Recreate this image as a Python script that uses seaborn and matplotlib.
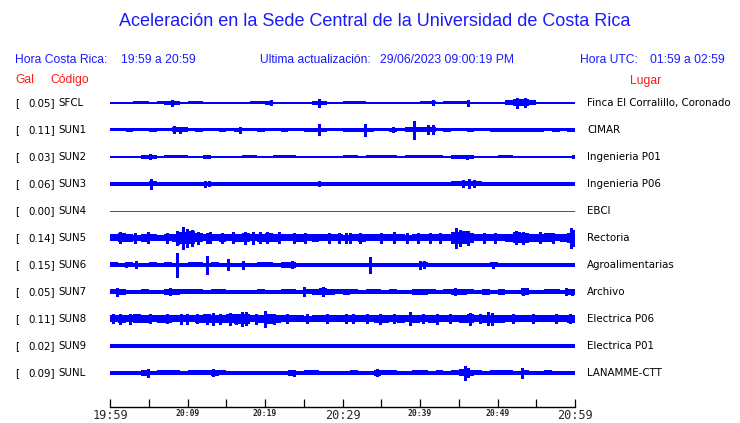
import numpy as np
import matplotlib
matplotlib.use("Agg")
import matplotlib.pyplot as plt
import seaborn as sns

W, H = 740, 423

codes = ["SFCL", "SUN1", "SUN2", "SUN3", "SUN4", "SUN5", "SUN6", "SUN7", "SUN8", "SUN9", "SUNL"]
gal = ["0.05", "0.11", "0.03", "0.06", "0.00", "0.14", "0.15", "0.05", "0.11", "0.02", "0.09"]
places = ["Finca El Corralillo, Coronado", "CIMAR", "Ingenieria P01", "Ingenieria P06", "EBCI",
          "Rectoria", "Agroalimentarias", "Archivo", "Electrica P06", "Electrica P01", "LANAMME-CTT"]

tick_min = list(range(0, 61, 5))
tick_labels = ["19:59", "", "20:09", "", "20:19", "", "20:29", "", "20:39", "", "20:49", "", "20:59"]
big_labels = ["19:59", "20:29", "20:59"]

# half-height of each trace (pixels), one value per minute
sfcl_env = [.5, .5, .5, 1.5, 1.5, .5, 1.5, 1.8, 1.8, .5, 1.5, 1.5, 1.3, 1.3, .5, 1.3, 1.3, .5, 1.5, 1.5,
            1.8, .5, .5, 1.3, .5, .5, 1.8, 1.8, 1.3, 1.3, 1.5, 1.5, 1.5, 1.3, 1.3, .5, .5, .5, 1.3, .5,
            1.5, 1.5, 1.3, 1.5, 1.5, 1.5, .5, 1.3, .5, .5, 1.3, 2.5, 3.5, 3.5, 2.5, .5, 1.3, 1.3, .5, .5]
sun1_env = [1.5, 1.5, 1.8, 1.5, 1.5, 1.8, 1.5, 1.5, 2.5, 2.5, 1.5, 1.8, 1.5, 1.5, 1.8, 1.5, 2.0, 1.5, 1.5, 1.8,
            1.5, 1.5, 1.8, 1.5, 1.5, 1.8, 2.0, 2.0, 1.5, 1.5, 1.8, 2.0, 2.0, 2.0, 1.5, 1.5, 1.8, 1.5, 2.5, 2.5,
            2.5, 2.5, 1.5, 1.8, 1.5, 1.5, 1.8, 1.5, 1.5, 1.8, 1.8, 1.8, 1.8, 1.8, 1.8, 1.8, 1.5, 1.8, 1.5, 1.8]
sun2_env = [.5, .5, .5, .5, 1.8, 1.8, .5, 1.5, 1.5, 1.5, .5, .5, 1.8, 1.3, .5, 1.3, .5, 1.5, 1.5, .5,
            1.3, 1.5, 1.5, 1.5, 1.3, .5, .5, 1.3, 1.3, .5, 1.5, 1.5, .5, 1.5, 1.5, 1.5, 1.5, 1.3, 1.5, 1.5,
            1.5, 1.5, 1.5, .5, 1.8, 1.8, 1.8, .5, 1.3, .5, 1.5, 1.5, .5, 1.3, .5, .5, 1.3, .5, 1.3, .5]
sun3_env = [1.6, 2.0, 2.0, 1.6, 1.6, 2.5, 1.6, 1.8, 1.6, 1.8, 1.6, 1.8, 2.2, 2.2, 1.6, 1.8, 1.6, 1.8, 1.6, 2.0,
            2.0, 1.6, 1.8, 1.6, 1.8, 1.6, 2.0, 2.0, 1.6, 1.8, 2.0, 2.0, 2.0, 2.0, 1.6, 1.8, 1.6, 1.8, 1.6, 1.8,
            2.0, 2.0, 2.0, 1.6, 2.5, 2.5, 2.5, 2.5, 1.6, 1.8, 2.0, 2.0, 2.0, 2.0, 2.0, 2.0, 1.6, 1.8, 2.0, 2.0]
sun4_env = [0.0] * 60
sun5_env = [3.5, 4.5, 4.0, 3.0, 4.0, 3.5, 3.0, 3.5, 4.0, 6.0, 6.5, 4.5, 3.5, 3.5, 4.0, 3.5, 4.0, 4.5, 3.5, 4.0,
            4.5, 4.0, 3.5, 3.5, 4.0, 3.5, 4.0, 3.5, 3.5, 3.5, 3.0, 3.5, 4.0, 3.5, 3.5, 3.5, 3.5, 3.5, 3.0, 3.5,
            3.5, 3.5, 3.5, 3.5, 6.0, 6.5, 5.0, 3.5, 3.5, 3.5, 3.5, 4.0, 5.5, 5.0, 4.0, 4.0, 4.5, 3.5, 4.0, 5.0]
sun6_env = [2.5, 1.8, 2.5, 2.2, 1.8, 2.5, 1.8, 2.5, 1.8, 1.8, 2.5, 2.5, 1.8, 2.5, 1.8, 2.2, 1.8, 2.2, 1.8, 2.5,
            2.5, 1.8, 3.0, 3.0, 1.8, 1.8, 2.2, 1.8, 2.2, 1.8, 2.2, 2.2, 1.8, 2.2, 1.8, 1.8, 2.2, 1.8, 2.2, 1.8,
            2.5, 2.2, 1.8, 1.8, 1.8, 2.2, 2.2, 2.2, 1.8, 2.5, 1.8, 1.8, 2.2, 2.2, 1.8, 1.8, 2.2, 1.8, 1.8, 2.2]
sun7_env = [2.5, 3.0, 2.2, 2.2, 2.5, 1.8, 1.8, 3.0, 3.0, 2.5, 2.5, 2.5, 1.8, 2.5, 2.5, 1.8, 1.8, 2.2, 2.2, 2.5,
            1.8, 2.2, 2.5, 2.5, 2.2, 2.5, 3.0, 3.5, 3.0, 2.5, 3.0, 2.5, 1.8, 2.5, 2.5, 1.8, 2.5, 2.2, 1.8, 2.8,
            2.8, 2.5, 1.8, 2.5, 2.8, 2.8, 2.5, 1.8, 3.0, 1.8, 2.8, 1.8, 1.8, 3.5, 1.8, 2.2, 2.5, 2.5, 1.8, 3.0]
sun8_env = [3.5, 4.0, 3.5, 4.5, 4.0, 3.5, 4.0, 4.0, 3.5, 3.5, 3.5, 4.0, 4.5, 4.0, 4.0, 4.5, 5.0, 5.0, 3.5, 4.0,
            5.0, 4.0, 3.5, 3.5, 3.5, 3.0, 3.5, 3.5, 3.5, 3.5, 3.5, 3.5, 3.5, 3.5, 4.0, 4.0, 3.5, 4.0, 3.5, 4.0,
            3.5, 4.0, 3.5, 3.5, 3.5, 4.0, 4.5, 3.5, 4.0, 4.0, 4.0, 3.5, 3.5, 3.5, 3.5, 3.5, 3.5, 3.5, 3.5, 4.0]
sun9_env = [1.8, 1.8, 2.2, 1.8, 1.8, 1.8, 1.8, 1.8, 1.8, 1.8, 1.8, 1.8, 1.8, 1.8, 1.8, 1.8, 1.8, 1.8, 1.8, 1.8,
            1.8, 1.8, 1.8, 1.8, 1.8, 1.8, 1.8, 1.8, 1.8, 1.8, 2.2, 1.8, 1.8, 1.8, 1.8, 1.8, 1.8, 1.8, 1.8, 1.8,
            1.8, 1.8, 1.8, 1.8, 1.8, 1.8, 1.8, 1.8, 1.8, 1.8, 1.8, 1.8, 1.8, 1.8, 1.8, 2.2, 1.8, 1.8, 1.8, 1.8]
sunl_env = [2.2, 2.2, 2.2, 2.2, 3.0, 2.2, 2.5, 2.5, 2.5, 1.8, 2.5, 2.5, 2.5, 3.0, 2.5, 2.2, 2.2, 1.8, 1.8, 2.2,
            1.8, 2.2, 1.8, 3.0, 1.8, 2.5, 2.5, 1.8, 2.2, 1.8, 1.8, 2.5, 2.2, 1.8, 3.0, 2.5, 2.5, 2.2, 1.8, 2.5,
            2.5, 2.2, 2.5, 2.2, 2.5, 3.5, 3.0, 2.5, 1.8, 2.5, 2.5, 2.5, 2.2, 2.5, 1.8, 1.8, 2.5, 2.2, 1.8, 1.8]

# short spikes: (minute, half-height in pixels)
sfcl_spk = [(8.0, 3), (20.8, 2.5), (27.0, 4), (41.7, 2.5), (46.2, 3), (52.5, 5), (53.5, 4.5)]
sun1_spk = [(8.3, 3.5), (9.0, 3), (16.8, 3), (27.0, 5.5), (32.9, 6), (36.5, 2.5), (39.2, 9), (41.0, 4.5), (41.7, 4.5)]
sun2_spk = [(5.2, 2.5), (46.0, 2), (59.8, 1.5)]
sun3_spk = [(5.3, 5.3), (12.3, 3.2), (12.8, 2.5), (27.0, 2.5), (45.5, 3.5), (46.3, 4.5), (47.0, 3.5)]
sun4_spk = []
sun5_spk = [(1.3, 5.5), (3.2, 5), (4.9, 5.5), (7.3, 5), (8.6, 7), (8.8, 6), (9.4, 11), (9.9, 9), (10.6, 8),
            (11.4, 6), (12.5, 5), (12.9, 5.5), (14.4, 5), (15.9, 5.5), (17.4, 6), (18.5, 6), (19.4, 5.5),
            (20.2, 5.5), (21.8, 5.5), (23.7, 5), (25.2, 5), (28.2, 5), (29.5, 5), (30.5, 5), (31.0, 5),
            (32.3, 5), (35.0, 5), (36.6, 5.5), (38.3, 5), (39.8, 5), (41.3, 5), (42.6, 5), (44.6, 10),
            (45.2, 8), (46.2, 7), (48.2, 5), (49.7, 5), (52.4, 6.5), (53.3, 6), (55.5, 5.5), (57.2, 5),
            (59.5, 10), (59.9, 8)]
sun6_spk = [(2.0, 2.5), (3.4, 3.5), (8.6, 12), (12.5, 8.7), (15.2, 5.5), (17.1, 4), (23.5, 3.5), (33.6, 8),
            (40.0, 4), (40.5, 3.5), (49.4, 3)]
sun7_spk = [(0.9, 4), (7.8, 3.5), (25.0, 4.5), (27.5, 4.5), (44.5, 3.5), (53.3, 3.5), (58.9, 3.5), (59.6, 3)]
sun8_spk = [(0.4, 4.5), (1.3, 5), (2.6, 5), (5.2, 4.5), (7.3, 4.5), (9.2, 5), (9.9, 5), (11.2, 4.5),
            (12.5, 5), (13.3, 6), (14.2, 5), (15.5, 6), (16.3, 5), (17.0, 7), (17.6, 6.5), (18.9, 5),
            (20.0, 8), (21.1, 5), (22.8, 4.5), (25.4, 4.5), (28.0, 4.5), (30.5, 4.5), (31.4, 4.5),
            (33.1, 4.5), (34.8, 5), (36.6, 4.5), (38.7, 6.5), (40.4, 4.5), (42.2, 5), (43.9, 4.5),
            (46.5, 6), (47.7, 4.5), (48.8, 6.5), (49.3, 6), (52.0, 4.5), (54.6, 4.5), (57.6, 4.5), (59.4, 4.5)]
sun9_spk = []
sunl_spk = [(4.9, 4), (13.3, 3.5), (23.7, 3), (34.4, 3.5), (45.8, 7), (46.2, 4.5), (53.2, 5)]

envs = [sfcl_env, sun1_env, sun2_env, sun3_env, sun4_env, sun5_env, sun6_env, sun7_env, sun8_env, sun9_env, sunl_env]
spikes = [sfcl_spk, sun1_spk, sun2_spk, sun3_spk, sun4_spk, sun5_spk, sun6_spk, sun7_spk, sun8_spk, sun9_spk, sunl_spk]

sns.set_style("white")
plt.rcParams['font.family'] = ['DejaVu Sans']

blue = "#0000ff"
hdr_blue = "#1a1aff"
red = "#ff1a1a"

fig = plt.figure(figsize=(W / 100, H / 100), dpi=100)
# trace area: x 110..575 px, rows every 27 px starting at y=103, time axis at y=407
ax = fig.add_axes([110 / W, (H - 407) / H, 465 / W, (407 - 89.5) / H])
row_px = 27.0

minutes = np.arange(61)
for i, (env, spk) in enumerate(zip(envs, spikes)):
    if codes[i] == "SUN4":
        sns.lineplot(x=[0, 60], y=[i, i], ax=ax, color="#d81b1b", lw=0.5, antialiased=False)
        continue
    sns.lineplot(x=[0, 60], y=[i, i], ax=ax, color=blue, lw=0.5, antialiased=False)
    h = np.array(env + [env[-1]]) / row_px
    ax.fill_between(minutes, i - h, i + h, step="post", color=blue, lw=0, antialiased=False)
    if spk:
        t = [s[0] for s in spk]
        a = np.array([s[1] for s in spk]) / row_px
        ax.vlines(t, i - a, i + a, color=blue, lw=0.9, antialiased=False)

ax.set_xlim(0, 60)
ax.set_ylim(11.26, -0.5)
ax.set_yticks([])
for s in ["top", "left", "right"]:
    ax.spines[s].set_visible(False)
ax.spines["bottom"].set_color("black")
ax.spines["bottom"].set_linewidth(1.0)
ax.set_xticks(tick_min)
ax.set_xticklabels(tick_labels)
ax.tick_params(axis="x", direction="in", length=5.5, width=0.9, color="black", pad=1.5, bottom=True)
for lab in ax.get_xticklabels():
    lab.set_fontfamily("DejaVu Sans Mono")
    if lab.get_text() in big_labels:
        lab.set_fontsize(8.6)
    else:
        lab.set_fontsize(5.8)
        lab.set_fontweight("bold")


def put(x, y, s, **kw):
    fig.text(x / W, 1 - y / H, s, va="center", **kw)


hdr = dict(family="Liberation Sans", fontsize=8.7, color=hdr_blue)
put(375, 22, "Aceleración en la Sede Central de la Universidad de Costa Rica",
    family="Liberation Sans", fontsize=13, color=hdr_blue, ha="center")
put(15, 60, "Hora Costa Rica:", **hdr)
put(121, 60, "19:59 a 20:59", **hdr)
put(260.5, 60, "Ultima actualización:", **hdr)
put(380.5, 60, "29/06/2023 09:00:19 PM", **hdr)
put(580.5, 60, "Hora UTC:", **hdr)
put(650, 60, "01:59 a 02:59", **hdr)
put(15, 80, "Gal", family="Liberation Sans", fontsize=8.7, color=red)
put(50.5, 80, "Código", family="Liberation Sans", fontsize=8.7, color=red)
put(630, 81, "Lugar", family="Liberation Sans", fontsize=8.7, color=red)

for i in range(len(codes)):
    y = 103 + row_px * i
    put(15, y, "[", fontsize=7.4, color="black")
    put(55, y, gal[i] + "]", fontsize=7.4, color="black", ha="right")
    put(58, y, codes[i], fontsize=7.4, color="black")
    put(587, y, places[i], fontsize=7.4, color="black")

fig.savefig("out.png", dpi=100, facecolor="white")
